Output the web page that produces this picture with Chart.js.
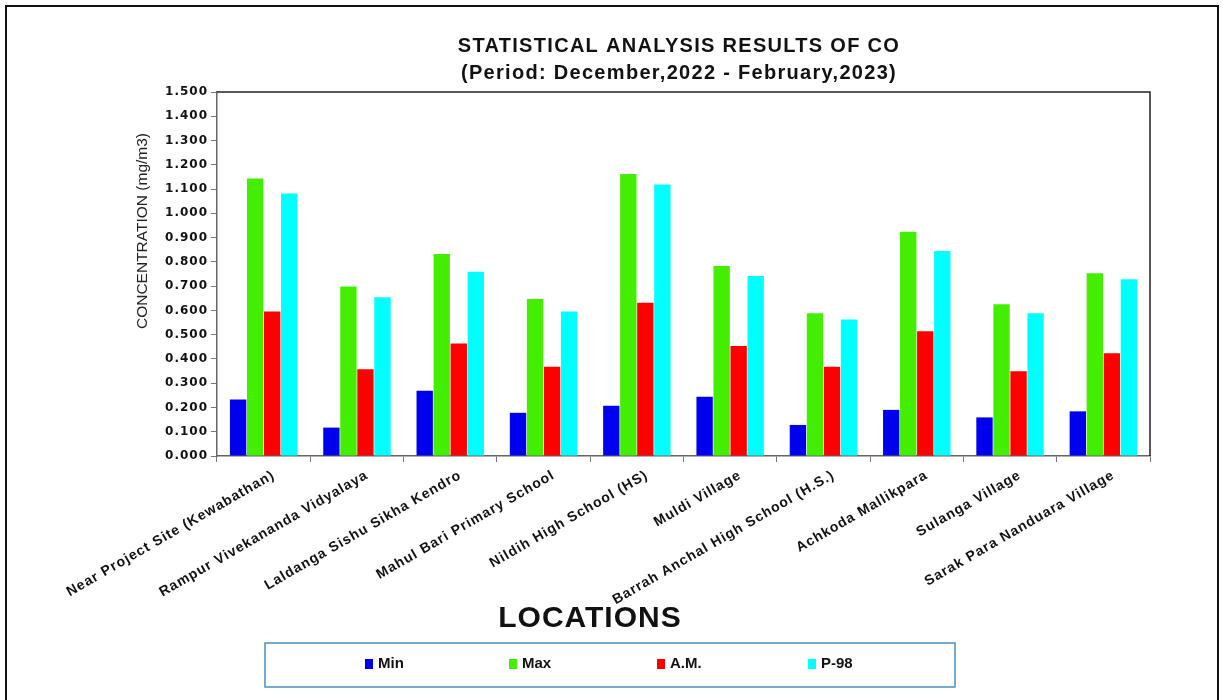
<!DOCTYPE html>
<html>
<head>
<meta charset="utf-8">
<script src="https://cdn.jsdelivr.net/npm/chart.js@4.4.0/dist/chart.umd.min.js"></script>
<style>
  html, body { margin: 0; padding: 0; background: #fff; }
  canvas { display: block; }
</style>
</head>
<body>
<canvas id="coChart" width="1223" height="700"></canvas>
<script>
// Monitoring locations (x axis)
const locations = [
  'Near Project Site (Kewabathan)',
  'Rampur Vivekananda Vidyalaya',
  'Laldanga Sishu Sikha Kendro',
  'Mahul Bari Primary School',
  'Nildih High School (HS)',
  'Muldi Village',
  'Barrah Anchal High School (H.S.)',
  'Achkoda Mallikpara',
  'Sulanga Village',
  'Sarak Para Nanduara Village'
];

// CO concentration, mg/m3
const minValues = [0.233, 0.117, 0.269, 0.178, 0.207, 0.244, 0.128, 0.190, 0.159, 0.184];
const maxValues = [1.144, 0.698, 0.832, 0.647, 1.162, 0.783, 0.588, 0.924, 0.625, 0.753];
const amValues  = [0.595, 0.357, 0.464, 0.368, 0.632, 0.453, 0.368, 0.514, 0.349, 0.423];
const p98Values = [1.082, 0.654, 0.759, 0.595, 1.119, 0.742, 0.563, 0.845, 0.588, 0.728];

const seriesNames = ['Min', 'Max', 'A.M.', 'P-98'];
const seriesColors = ['#0000ee', '#44ee00', '#ff0000', '#00ffff'];

const titleLines = ['STATISTICAL ANALYSIS RESULTS OF CO', '(Period: December,2022 - February,2023)'];
const yAxisTitle = 'CONCENTRATION (mg/m3)';
const xAxisTitle = 'LOCATIONS';

// titles, frame, plot box and the boxed legend
const decorations = {
  id: 'decorations',
  beforeUpdate(chart) {
    chart.ctx.letterSpacing = '1px';
  },
  beforeDraw(chart) {
    const ctx = chart.ctx;
    ctx.save();
    ctx.fillStyle = '#fff';
    ctx.fillRect(0, 0, chart.width, chart.height);
    ctx.restore();
    ctx.letterSpacing = '1px';
  },
  afterDraw(chart) {
    const { ctx, chartArea } = chart;
    ctx.save();

    // page frame
    ctx.strokeStyle = '#111';
    ctx.lineWidth = 2;
    ctx.beginPath();
    ctx.moveTo(6, 710);
    ctx.lineTo(6, 6);
    ctx.lineTo(1218, 6);
    ctx.lineTo(1218, 710);
    ctx.stroke();

    // top and right edges of the plot box
    ctx.strokeStyle = '#222';
    ctx.lineWidth = 1.5;
    ctx.beginPath();
    ctx.moveTo(chartArea.left, chartArea.top);
    ctx.lineTo(chartArea.right, chartArea.top);
    ctx.lineTo(chartArea.right, chartArea.bottom);
    ctx.stroke();

    // main title
    ctx.fillStyle = '#111';
    ctx.textAlign = 'center';
    ctx.textBaseline = 'middle';
    ctx.font = 'bold 20px "Liberation Sans", Arial, sans-serif';
    ctx.letterSpacing = '1.3px';
    ctx.fillText(titleLines[0], 679, 46);
    ctx.fillText(titleLines[1], 679, 73);

    // y axis title
    ctx.save();
    ctx.translate(143, 231);
    ctx.rotate(-Math.PI / 2);
    ctx.font = '15.5px "Liberation Sans", Arial, sans-serif';
    ctx.letterSpacing = '0px';
    ctx.fillStyle = '#222';
    ctx.fillText(yAxisTitle, 0, 0);
    ctx.restore();

    // x axis title
    ctx.font = 'bold 30px "Liberation Sans", Arial, sans-serif';
    ctx.letterSpacing = '1px';
    ctx.fillStyle = '#111';
    ctx.fillText(xAxisTitle, 590, 619);

    // legend box
    ctx.strokeStyle = '#4a8fc0';
    ctx.lineWidth = 1.5;
    ctx.strokeRect(265, 643, 690, 44);
    const legendX = [365, 509, 657, 808];
    ctx.font = 'bold 15px "Liberation Sans Narrow", "Liberation Sans", Arial, sans-serif';
    ctx.letterSpacing = '0px';
    ctx.textAlign = 'left';
    chart.data.datasets.forEach((ds, i) => {
      ctx.fillStyle = ds.backgroundColor;
      ctx.fillRect(legendX[i], 659, 8, 10);
      ctx.fillStyle = '#111';
      ctx.fillText(ds.label, legendX[i] + 13, 664);
    });

    ctx.restore();
  }
};

const datasets = [minValues, maxValues, amValues, p98Values].map((values, i) => ({
  label: seriesNames[i],
  data: values,
  backgroundColor: seriesColors[i],
  borderWidth: 0,
  barPercentage: 0.96,
  categoryPercentage: 0.73
}));

new Chart(document.getElementById('coChart'), {
  type: 'bar',
  data: { labels: locations, datasets },
  options: {
    responsive: false,
    animation: false,
    layout: { padding: { left: 0, top: 92, right: 73, bottom: 0 } },
    plugins: {
      legend: { display: false },
      title: { display: false },
      tooltip: { enabled: false }
    },
    scales: {
      x: {
        afterFit: (scale) => { scale.height = 244; },
        grid: { offset: true, drawOnChartArea: false, drawTicks: true, tickLength: 6, color: '#777' },
        border: { display: true, color: '#666', width: 1.5 },
        ticks: {
          autoSkip: false,
          minRotation: 30,
          maxRotation: 30,
          padding: 5,
          labelOffset: 10,
          color: '#111',
          font: { family: '"Liberation Sans", Arial, sans-serif', size: 14, weight: 'bold' }
        }
      },
      y: {
        min: 0,
        max: 1.5,
        afterFit: (scale) => { scale.width = 217; },
        grid: { drawOnChartArea: false, drawTicks: true, tickLength: 6, color: '#777' },
        border: { display: true, color: '#666', width: 1.5 },
        ticks: {
          stepSize: 0.1,
          padding: 3,
          color: '#111',
          font: { family: '"DejaVu Sans", Verdana, sans-serif', size: 12, weight: 'bold' },
          callback: (v) => Number(v).toFixed(3)
        }
      }
    }
  },
  plugins: [decorations]
});
</script>
</body>
</html>
